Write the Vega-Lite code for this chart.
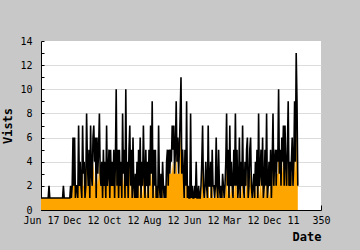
{
"$schema": "https://vega.github.io/schema/vega-lite/v6.json",
"width": 280, "height": 169,
"autosize": {"type": "none"},
"padding": {"left": 41, "top": 41, "right": 39, "bottom": 40},
"background": "#c8c8c8",
"config": {"view": {"fill": "white", "stroke": null}, "font": "DejaVu Sans Mono"},
"data": {"values": [
{"i":0,"v":1,"u":1},{"i":1,"v":1,"u":1},{"i":2,"v":1,"u":1},{"i":3,"v":1,"u":1},{"i":4,"v":1,"u":1},{"i":5,"v":1,"u":1},{"i":6,"v":1,"u":1},{"i":7,"v":1,"u":1},{"i":8,"v":1,"u":1},{"i":9,"v":1,"u":1},
{"i":10,"v":2,"u":2},{"i":11,"v":1,"u":1},{"i":12,"v":1,"u":1},{"i":13,"v":1,"u":1},{"i":14,"v":1,"u":1},{"i":15,"v":1,"u":1},{"i":16,"v":1,"u":1},{"i":17,"v":1,"u":1},{"i":18,"v":1,"u":1},{"i":19,"v":1,"u":1},
{"i":20,"v":1,"u":1},{"i":21,"v":1,"u":1},{"i":22,"v":1,"u":1},{"i":23,"v":1,"u":1},{"i":24,"v":1,"u":1},{"i":25,"v":1,"u":1},{"i":26,"v":1,"u":1},{"i":27,"v":1,"u":1},{"i":28,"v":2,"u":2},{"i":29,"v":1,"u":1},
{"i":30,"v":1,"u":1},{"i":31,"v":1,"u":1},{"i":32,"v":1,"u":1},{"i":33,"v":1,"u":1},{"i":34,"v":1,"u":1},{"i":35,"v":1,"u":1},{"i":36,"v":1,"u":1},{"i":37,"v":2,"u":1},{"i":38,"v":1,"u":1},{"i":39,"v":2,"u":1},
{"i":40,"v":6,"u":3},{"i":41,"v":2,"u":2},{"i":42,"v":6,"u":3},{"i":43,"v":1,"u":1},{"i":44,"v":2,"u":2},{"i":45,"v":2,"u":2},{"i":46,"v":1,"u":1},{"i":47,"v":7,"u":4},{"i":48,"v":2,"u":2},{"i":49,"v":4,"u":2},
{"i":50,"v":2,"u":2},{"i":51,"v":1,"u":1},{"i":52,"v":7,"u":4},{"i":53,"v":3,"u":2},{"i":54,"v":4,"u":2},{"i":55,"v":1,"u":1},{"i":56,"v":2,"u":2},{"i":57,"v":8,"u":5},{"i":58,"v":4,"u":2},{"i":59,"v":2,"u":2},
{"i":60,"v":5,"u":3},{"i":61,"v":1,"u":1},{"i":62,"v":7,"u":4},{"i":63,"v":3,"u":2},{"i":64,"v":2,"u":2},{"i":65,"v":6,"u":3},{"i":66,"v":7,"u":4},{"i":67,"v":4,"u":2},{"i":68,"v":6,"u":3},{"i":69,"v":1,"u":1},
{"i":70,"v":6,"u":3},{"i":71,"v":3,"u":2},{"i":72,"v":5,"u":3},{"i":73,"v":8,"u":4},{"i":74,"v":3,"u":2},{"i":75,"v":2,"u":2},{"i":76,"v":4,"u":2},{"i":77,"v":1,"u":1},{"i":78,"v":5,"u":3},{"i":79,"v":2,"u":2},
{"i":80,"v":4,"u":2},{"i":81,"v":1,"u":1},{"i":82,"v":7,"u":4},{"i":83,"v":2,"u":2},{"i":84,"v":3,"u":2},{"i":85,"v":5,"u":3},{"i":86,"v":1,"u":1},{"i":87,"v":5,"u":3},{"i":88,"v":2,"u":2},{"i":89,"v":4,"u":2},
{"i":90,"v":2,"u":2},{"i":91,"v":5,"u":3},{"i":92,"v":1,"u":1},{"i":93,"v":4,"u":2},{"i":94,"v":10,"u":6},{"i":95,"v":2,"u":2},{"i":96,"v":5,"u":3},{"i":97,"v":1,"u":1},{"i":98,"v":5,"u":3},{"i":99,"v":2,"u":2},
{"i":100,"v":4,"u":2},{"i":101,"v":1,"u":1},{"i":102,"v":8,"u":4},{"i":103,"v":3,"u":2},{"i":104,"v":5,"u":3},{"i":105,"v":1,"u":1},{"i":106,"v":10,"u":5},{"i":107,"v":2,"u":2},{"i":108,"v":4,"u":2},{"i":109,"v":1,"u":1},
{"i":110,"v":5,"u":3},{"i":111,"v":7,"u":5},{"i":112,"v":2,"u":1},{"i":113,"v":5,"u":3},{"i":114,"v":1,"u":1},{"i":115,"v":6,"u":4},{"i":116,"v":2,"u":1},{"i":117,"v":1,"u":1},{"i":118,"v":3,"u":2},{"i":119,"v":1,"u":1},
{"i":120,"v":4,"u":2},{"i":121,"v":1,"u":1},{"i":122,"v":5,"u":3},{"i":123,"v":2,"u":1},{"i":124,"v":6,"u":4},{"i":125,"v":1,"u":1},{"i":126,"v":4,"u":2},{"i":127,"v":2,"u":1},{"i":128,"v":7,"u":4},{"i":129,"v":3,"u":2},
{"i":130,"v":1,"u":1},{"i":131,"v":5,"u":3},{"i":132,"v":2,"u":1},{"i":133,"v":4,"u":2},{"i":134,"v":1,"u":1},{"i":135,"v":5,"u":3},{"i":136,"v":2,"u":1},{"i":137,"v":7,"u":4},{"i":138,"v":3,"u":2},{"i":139,"v":9,"u":5},
{"i":140,"v":1,"u":1},{"i":141,"v":5,"u":3},{"i":142,"v":2,"u":1},{"i":143,"v":5,"u":3},{"i":144,"v":1,"u":1},{"i":145,"v":2,"u":1},{"i":146,"v":1,"u":1},{"i":147,"v":7,"u":4},{"i":148,"v":2,"u":1},{"i":149,"v":1,"u":1},
{"i":150,"v":3,"u":2},{"i":151,"v":1,"u":1},{"i":152,"v":4,"u":2},{"i":153,"v":2,"u":1},{"i":154,"v":1,"u":1},{"i":155,"v":2,"u":1},{"i":156,"v":1,"u":1},{"i":157,"v":4,"u":3},{"i":158,"v":5,"u":3},{"i":159,"v":2,"u":2},
{"i":160,"v":5,"u":3},{"i":161,"v":3,"u":3},{"i":162,"v":5,"u":3},{"i":163,"v":4,"u":3},{"i":164,"v":7,"u":4},{"i":165,"v":5,"u":3},{"i":166,"v":7,"u":4},{"i":167,"v":3,"u":3},{"i":168,"v":5,"u":3},{"i":169,"v":9,"u":5},
{"i":170,"v":4,"u":3},{"i":171,"v":6,"u":3},{"i":172,"v":3,"u":3},{"i":173,"v":5,"u":3},{"i":174,"v":8,"u":5},{"i":175,"v":11,"u":7},{"i":176,"v":3,"u":3},{"i":177,"v":5,"u":3},{"i":178,"v":3,"u":3},{"i":179,"v":1,"u":1},
{"i":180,"v":5,"u":5},{"i":181,"v":2,"u":1},{"i":182,"v":9,"u":4},{"i":183,"v":1,"u":1},{"i":184,"v":2,"u":1},{"i":185,"v":1,"u":1},{"i":186,"v":1,"u":1},{"i":187,"v":8,"u":2},{"i":188,"v":1,"u":1},{"i":189,"v":2,"u":1},
{"i":190,"v":1,"u":1},{"i":191,"v":1,"u":1},{"i":192,"v":2,"u":1},{"i":193,"v":1,"u":1},{"i":194,"v":4,"u":2},{"i":195,"v":1,"u":1},{"i":196,"v":1,"u":1},{"i":197,"v":2,"u":1},{"i":198,"v":1,"u":1},{"i":199,"v":1,"u":1},
{"i":200,"v":2,"u":1},{"i":201,"v":4,"u":2},{"i":202,"v":7,"u":4},{"i":203,"v":2,"u":1},{"i":204,"v":1,"u":1},{"i":205,"v":2,"u":1},{"i":206,"v":4,"u":2},{"i":207,"v":2,"u":1},{"i":208,"v":1,"u":1},{"i":209,"v":7,"u":4},
{"i":210,"v":2,"u":1},{"i":211,"v":2,"u":1},{"i":212,"v":4,"u":2},{"i":213,"v":1,"u":1},{"i":214,"v":5,"u":3},{"i":215,"v":2,"u":1},{"i":216,"v":2,"u":1},{"i":217,"v":1,"u":1},{"i":218,"v":2,"u":1},{"i":219,"v":6,"u":3},
{"i":220,"v":2,"u":1},{"i":221,"v":1,"u":1},{"i":222,"v":5,"u":4},{"i":223,"v":2,"u":1},{"i":224,"v":1,"u":1},{"i":225,"v":2,"u":1},{"i":226,"v":1,"u":1},{"i":227,"v":3,"u":2},{"i":228,"v":2,"u":1},{"i":229,"v":1,"u":1},
{"i":230,"v":2,"u":1},{"i":231,"v":4,"u":2},{"i":232,"v":8,"u":4},{"i":233,"v":2,"u":1},{"i":234,"v":5,"u":3},{"i":235,"v":1,"u":1},{"i":236,"v":7,"u":4},{"i":237,"v":2,"u":1},{"i":238,"v":4,"u":2},{"i":239,"v":2,"u":1},
{"i":240,"v":1,"u":1},{"i":241,"v":5,"u":3},{"i":242,"v":2,"u":1},{"i":243,"v":8,"u":5},{"i":244,"v":2,"u":1},{"i":245,"v":5,"u":4},{"i":246,"v":1,"u":1},{"i":247,"v":2,"u":1},{"i":248,"v":6,"u":4},{"i":249,"v":1,"u":1},
{"i":250,"v":4,"u":2},{"i":251,"v":2,"u":1},{"i":252,"v":7,"u":4},{"i":253,"v":2,"u":1},{"i":254,"v":1,"u":1},{"i":255,"v":4,"u":2},{"i":256,"v":2,"u":1},{"i":257,"v":5,"u":3},{"i":258,"v":6,"u":3},{"i":259,"v":1,"u":1},
{"i":260,"v":2,"u":1},{"i":261,"v":5,"u":3},{"i":262,"v":6,"u":3},{"i":263,"v":2,"u":1},{"i":264,"v":1,"u":1},{"i":265,"v":2,"u":1},{"i":266,"v":3,"u":2},{"i":267,"v":1,"u":1},{"i":268,"v":4,"u":2},{"i":269,"v":2,"u":1},
{"i":270,"v":5,"u":3},{"i":271,"v":1,"u":1},{"i":272,"v":8,"u":4},{"i":273,"v":2,"u":1},{"i":274,"v":3,"u":2},{"i":275,"v":5,"u":3},{"i":276,"v":2,"u":1},{"i":277,"v":6,"u":4},{"i":278,"v":1,"u":1},{"i":279,"v":2,"u":1},
{"i":280,"v":5,"u":3},{"i":281,"v":2,"u":1},{"i":282,"v":8,"u":5},{"i":283,"v":1,"u":1},{"i":284,"v":2,"u":1},{"i":285,"v":4,"u":2},{"i":286,"v":2,"u":1},{"i":287,"v":5,"u":3},{"i":288,"v":1,"u":1},{"i":289,"v":4,"u":2},
{"i":290,"v":8,"u":5},{"i":291,"v":2,"u":2},{"i":292,"v":4,"u":3},{"i":293,"v":5,"u":3},{"i":294,"v":2,"u":2},{"i":295,"v":5,"u":3},{"i":296,"v":4,"u":3},{"i":297,"v":10,"u":9},{"i":298,"v":3,"u":2},{"i":299,"v":5,"u":4},
{"i":300,"v":2,"u":2},{"i":301,"v":6,"u":4},{"i":302,"v":4,"u":3},{"i":303,"v":7,"u":6},{"i":304,"v":2,"u":2},{"i":305,"v":7,"u":6},{"i":306,"v":4,"u":3},{"i":307,"v":2,"u":2},{"i":308,"v":5,"u":3},{"i":309,"v":9,"u":5},
{"i":310,"v":2,"u":2},{"i":311,"v":4,"u":2},{"i":312,"v":2,"u":2},{"i":313,"v":4,"u":3},{"i":314,"v":6,"u":3},{"i":315,"v":2,"u":2},{"i":316,"v":4,"u":2},{"i":317,"v":9,"u":5},{"i":318,"v":4,"u":3},{"i":319,"v":13,"u":8},
{"i":320,"v":9,"u":4},{"i":321,"v":2,"u":2}
]},
"encoding": {
  "x": {"field": "i", "type": "quantitative", "scale": {"domain": [0, 350], "nice": false},
    "axis": {"title": "Date", "values": [0, 50, 100, 150, 200, 250, 300, 350],
      "labelExpr": "datum.value == 0 ? 'Jun 17' : datum.value == 50 ? 'Dec 12' : datum.value == 100 ? 'Oct 12' : datum.value == 150 ? 'Aug 12' : datum.value == 200 ? 'Jun 12' : datum.value == 250 ? 'Mar 12' : datum.value == 300 ? 'Dec 11' : '350'",
      "tickSize": -5, "labelPadding": 10, "grid": false, "labelFlush": false, "labelOverlap": false,
      "domainColor": "black", "tickColor": "black", "labelColor": "black", "labelFont": "DejaVu Sans Mono", "labelFontSize": 10,
      "titleFont": "DejaVu Sans Mono", "titleFontSize": 12, "titleFontWeight": "bold", "titleColor": "black", "titleAnchor": "end", "titlePadding": 6}}
},
"layer": [
  {"mark": {"type": "area", "color": "#ffa500", "interpolate": "linear"},
   "encoding": {"y": {"field": "u", "type": "quantitative", "scale": {"domain": [0, 14], "nice": false},
     "axis": {"title": "Vists", "values": [0,1,2,3,4,5,6,7,8,9,10,11,12,13,14],
       "labelExpr": "datum.value % 2 == 0 ? datum.label : ''", "labelOverlap": false,
       "tickSize": -3, "labelPadding": 12, "grid": true, "gridColor": "#dcdcdc",
       "gridOpacity": {"condition": {"test": "datum.value % 2 == 1 || datum.value == 0 || datum.value == 14", "value": 0}, "value": 1},
       "domainColor": "black", "tickColor": "black", "labelColor": "black", "labelFont": "DejaVu Sans Mono", "labelFontSize": 10,
       "titleFont": "DejaVu Sans Mono", "titleFontSize": 12, "titleFontWeight": "bold", "titleColor": "black", "titlePadding": 5}}}},
  {"mark": {"type": "line", "color": "black", "strokeWidth": 1.6, "interpolate": "linear"},
   "encoding": {"y": {"field": "v", "type": "quantitative", "scale": {"domain": [0, 14], "nice": false},
     "axis": {"title": "Vists", "values": [0,1,2,3,4,5,6,7,8,9,10,11,12,13,14],
       "labelExpr": "datum.value % 2 == 0 ? datum.label : ''", "labelOverlap": false,
       "tickSize": -3, "labelPadding": 12, "grid": true, "gridColor": "#dcdcdc",
       "gridOpacity": {"condition": {"test": "datum.value % 2 == 1 || datum.value == 0 || datum.value == 14", "value": 0}, "value": 1},
       "domainColor": "black", "tickColor": "black", "labelColor": "black", "labelFont": "DejaVu Sans Mono", "labelFontSize": 10,
       "titleFont": "DejaVu Sans Mono", "titleFontSize": 12, "titleFontWeight": "bold", "titleColor": "black", "titlePadding": 5}}}}
]
}
